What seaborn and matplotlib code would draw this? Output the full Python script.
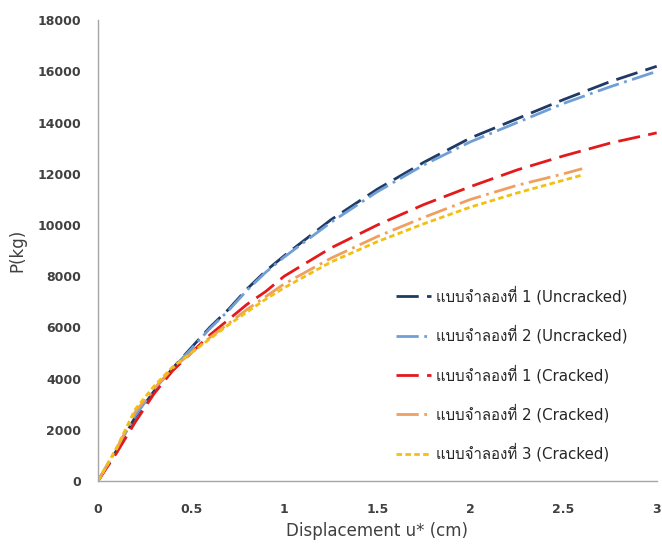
import matplotlib
matplotlib.use("Agg")
import matplotlib.pyplot as plt
from matplotlib import font_manager
import seaborn as sns
import pandas as pd

# ---------------- data ----------------
x_unc1 = [0, 0.1, 0.2, 0.3, 0.4, 0.5, 0.6, 0.7, 0.8, 0.9, 1.0, 1.25, 1.5, 1.75, 2.0, 2.25, 2.5, 2.75, 3.0]
y_unc1 = [0, 1200, 2500, 3500, 4400, 5200, 6000, 6700, 7500, 8200, 8800, 10200, 11400, 12450, 13400, 14150, 14900, 15600, 16200]

x_unc2 = [0, 0.1, 0.2, 0.3, 0.4, 0.5, 0.6, 0.7, 0.8, 0.9, 1.0, 1.25, 1.5, 1.75, 2.0, 2.25, 2.5, 2.75, 3.0]
y_unc2 = [0, 1250, 2550, 3550, 4400, 5150, 5950, 6650, 7450, 8150, 8750, 10100, 11300, 12350, 13250, 14000, 14750, 15400, 16000]

x_cr1 = [0, 0.1, 0.2, 0.3, 0.4, 0.5, 0.6, 0.7, 0.8, 0.9, 1.0, 1.25, 1.5, 1.75, 2.0, 2.25, 2.5, 2.75, 3.0]
y_cr1 = [0, 1100, 2300, 3400, 4300, 5000, 5700, 6300, 6900, 7400, 8000, 9100, 10000, 10800, 11500, 12150, 12700, 13200, 13600]

x_cr2 = [0, 0.1, 0.2, 0.3, 0.4, 0.5, 0.6, 0.7, 0.8, 0.9, 1.0, 1.25, 1.5, 1.75, 2.0, 2.25, 2.5, 2.6]
y_cr2 = [0, 1250, 2700, 3600, 4400, 5000, 5600, 6150, 6700, 7200, 7700, 8700, 9550, 10300, 11000, 11550, 12000, 12200]

x_cr3 = [0, 0.1, 0.2, 0.3, 0.4, 0.5, 0.6, 0.7, 0.8, 0.9, 1.0, 1.25, 1.5, 1.75, 2.0, 2.25, 2.5, 2.6]
y_cr3 = [0, 1300, 2800, 3700, 4450, 5000, 5550, 6100, 6600, 7100, 7550, 8550, 9350, 10050, 10700, 11250, 11750, 11950]

labels = [
    "แบบจำลองที่ 1 (Uncracked)",
    "แบบจำลองที่ 2 (Uncracked)",
    "แบบจำลองที่ 1 (Cracked)",
    "แบบจำลองที่ 2 (Cracked)",
    "แบบจำลองที่ 3 (Cracked)",
]
x_ticks = [0, 0.5, 1, 1.5, 2, 2.5, 3]
x_tick_labels = ["0", "0.5", "1", "1.5", "2", "2.5", "3"]
y_ticks = [0, 2000, 4000, 6000, 8000, 10000, 12000, 14000, 16000, 18000]

# ---------------- fonts ----------------
sns.set_theme(style="white")

def find_thai_family():
    try:
        from fontTools.ttLib import TTFont
    except Exception:
        return None
    seen = set()
    for f in font_manager.fontManager.ttflist:
        if f.name in seen:
            continue
        try:
            tt = TTFont(f.fname, fontNumber=0, lazy=True)
            cmap = tt.getBestCmap()
            if cmap and 0x0E41 in cmap and 0x0E08 in cmap:
                return f.name
        except Exception:
            pass
        seen.add(f.name)
    return None

thai = find_thai_family()
families = ["DejaVu Sans"]
if thai:
    families.append(thai)
plt.rcParams["font.family"] = families

# ---------------- plot ----------------
fig = plt.figure(figsize=(6.62, 5.46), dpi=100)
ax = fig.add_axes([0.148, 0.119, 0.844, 0.844])

series = [
    (x_unc1, y_unc1, labels[0], "#1f3a64", (8, 3)),
    (x_unc2, y_unc2, labels[1], "#6f9fd4", (8, 2, 1, 2)),
    (x_cr1, y_cr1, labels[2], "#e3191c", (8, 3)),
    (x_cr2, y_cr2, labels[3], "#efa060", (8, 2, 1, 2)),
    (x_cr3, y_cr3, labels[4], "#f2c010", (2, 1.2)),
]
for xs, ys, lab, col, dash in series:
    df = pd.DataFrame({"x": xs, "y": ys})
    sns.lineplot(data=df, x="x", y="y", ax=ax, color=col, linewidth=2.0,
                 label=lab, sort=False, estimator=None)
    ax.lines[-1].set_dashes(dash)

ax.set_xlim(0, 3)
ax.set_ylim(0, 18000)
ax.set_xticks(x_ticks)
ax.set_xticklabels(x_tick_labels)
ax.set_yticks(y_ticks)

for s in ["top", "right"]:
    ax.spines[s].set_visible(False)
for s in ["left", "bottom"]:
    ax.spines[s].set_color("#a6a6a6")
    ax.spines[s].set_linewidth(1.0)

ax.tick_params(axis="both", which="major", direction="out", length=4, width=1,
               color="#a6a6a6", labelsize=9, labelcolor="#404040")
for t in ax.get_xticklabels() + ax.get_yticklabels():
    t.set_fontweight("bold")
ax.tick_params(axis="x", pad=12)
ax.tick_params(axis="y", pad=8)

ax.set_xlabel("Displacement u* (cm)", fontsize=12, color="#404040", labelpad=4)
ax.set_ylabel("P(kg)", fontsize=12, color="#404040", labelpad=8)

leg = ax.legend(loc="lower right", bbox_to_anchor=(0.972, 0.012), frameon=False,
                fontsize=10.8, handlelength=2.35, labelspacing=1.38, handletextpad=0.3)
for t in leg.get_texts():
    t.set_color("#262626")

fig.savefig("out.png", dpi=100)
